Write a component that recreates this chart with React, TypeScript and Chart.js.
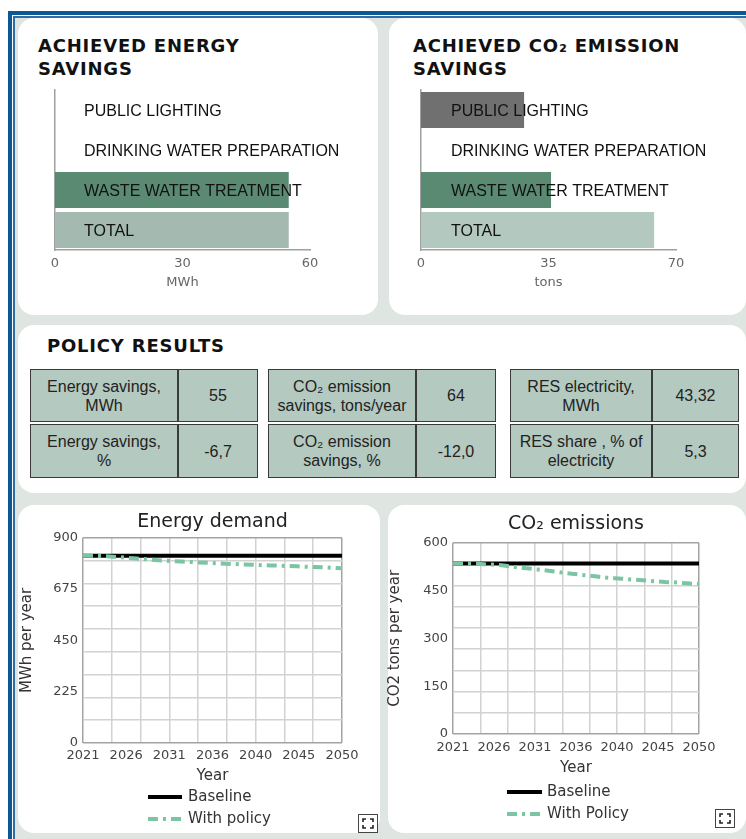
import React, { useEffect, useRef } from 'react';
import { Chart, registerables } from 'chart.js';

Chart.register(...registerables);

// ---------- DATA ----------
const BAR_CATEGORIES = ['PUBLIC LIGHTING', 'DRINKING WATER PREPARATION', 'WASTE WATER TREATMENT', 'TOTAL'];
const ENERGY_SAVINGS_MWH = [0, 0, 55, 55];
const CO2_SAVINGS_TONS = [28.3, 0, 35.7, 64];
const ENERGY_BAR_TICKS = [0, 30, 60];
const CO2_BAR_TICKS = [0, 35, 70];

const YEARS = [
  2021, 2022, 2023, 2024, 2025, 2026, 2027, 2028, 2029, 2030,
  2031, 2032, 2033, 2034, 2035, 2036, 2037, 2038, 2039, 2040,
  2041, 2042, 2043, 2044, 2045, 2046, 2047, 2048, 2049, 2050,
];
const ENERGY_BASELINE = [
  821, 821, 821, 821, 821, 821, 821, 821, 821, 821,
  821, 821, 821, 821, 821, 821, 821, 821, 821, 821,
  821, 821, 821, 821, 821, 821, 821, 821, 821, 821,
];
const ENERGY_WITH_POLICY = [
  821, 821, 820, 818, 815, 812, 809, 806, 803, 800,
  798, 796, 794, 792, 790, 788, 786, 785, 783, 782,
  780, 779, 778, 776, 775, 773, 772, 770, 768, 766,
];
const CO2_BASELINE = [
  535, 535, 535, 535, 535, 535, 535, 535, 535, 535,
  535, 535, 535, 535, 535, 535, 535, 535, 535, 535,
  535, 535, 535, 535, 535, 535, 535, 535, 535, 535,
];
const CO2_WITH_POLICY = [
  535, 535, 535, 534, 532, 531, 529, 525, 522, 519,
  516, 513, 510, 506, 503, 500, 497, 494, 491, 489,
  487, 485, 483, 481, 479, 477, 476, 474, 472, 471,
];
const X_TICK_LABELS = ['2021', '2026', '2031', '2036', '2040', '2045', '2050'];
const ENERGY_Y_TICKS = [0, 225, 450, 675, 900];
const CO2_Y_TICKS = [0, 150, 300, 450, 600];

const POLICY_LABELS = [
  ['Energy savings,', 'MWh'],
  ['CO\u2082 emission', 'savings, tons/year'],
  ['RES electricity,', 'MWh'],
  ['Energy savings,', '%'],
  ['CO\u2082 emission', 'savings, %'],
  ['RES share , % of', 'electricity'],
];
const POLICY_VALUES = ['55', '64', '43,32', '-6,7', '-12,0', '5,3'];

// ---------- STYLE ----------
const VERDANA = "'DejaVu Sans', Verdana, sans-serif";
const ARIAL = "'Liberation Sans', Arial, sans-serif";
const BG = '#dfe6e1';
const CELL_BG = '#b4c9bf';

const lineLegendPlugin = {
  id: 'lineLegend',
  afterDraw(chart: any, _args: any, opts: any) {
    if (!opts || !opts.display) return;
    const ctx = chart.ctx;
    chart.data.datasets.forEach((ds: any, i: number) => {
      const y = opts.y + i * opts.rowGap;
      ctx.save();
      ctx.strokeStyle = ds.borderColor;
      ctx.lineWidth = ds.borderWidth;
      ctx.setLineDash(ds.borderDash || []);
      ctx.beginPath();
      ctx.moveTo(opts.x, y);
      ctx.lineTo(opts.x + opts.len, y);
      ctx.stroke();
      ctx.setLineDash([]);
      ctx.fillStyle = '#333';
      ctx.font = `15px ${VERDANA}`;
      ctx.textBaseline = 'middle';
      ctx.textAlign = 'left';
      ctx.fillText(ds.label, opts.x + opts.len + opts.textGap, y);
      ctx.restore();
    });
  },
};

function evenTicks(min: number, max: number, n: number) {
  const out: { value: number }[] = [];
  for (let i = 0; i <= n; i++) out.push({ value: min + ((max - min) * i) / n });
  return out;
}

function barConfig(values: number[], colors: string[], ticks: number[], unit: string, pad: any, labelPad: number): any {
  return {
    type: 'bar',
    data: {
      labels: BAR_CATEGORIES,
      datasets: [
        {
          data: values,
          backgroundColor: colors,
          borderWidth: 0,
          barPercentage: 0.9,
          categoryPercentage: 1,
        },
      ],
    },
    options: {
      indexAxis: 'y',
      responsive: false,
      animation: false,
      layout: { padding: pad },
      plugins: { legend: { display: false }, tooltip: { enabled: false }, title: { display: false } },
      scales: {
        x: {
          min: ticks[0],
          max: ticks[ticks.length - 1],
          afterBuildTicks: (s: any) => {
            s.ticks = ticks.map((v) => ({ value: v }));
          },
          grid: { display: false, drawTicks: false },
          border: { display: true, color: '#a0a0a0', width: 1.5 },
          ticks: { font: { family: VERDANA, size: 13 }, color: '#666', padding: 6, maxRotation: 0, autoSkip: false },
          title: { display: true, text: unit, font: { family: VERDANA, size: 13 }, color: '#666', padding: 0 },
          afterFit: (s: any) => {
            s.height = 40;
          },
        },
        y: {
          grid: { display: false, drawTicks: false },
          border: { display: true, color: '#a0a0a0', width: 1.5 },
          ticks: {
            z: 1,
            mirror: true,
            padding: labelPad,
            labelOffset: 2,
            font: { family: ARIAL, size: 16 },
            color: '#111',
          },
          afterFit: (s: any) => {
            s.width = 10;
            s.paddingTop = 0;
            s.paddingBottom = 0;
          },
        },
      },
    },
  };
}

function lineConfig(p: any): any {
  const gridColor = (c: any) => (c.index === 0 || c.index === 9 ? '#a3a3a3' : '#d2d2d2');
  const gridWidth = (_c: any) => 1.5;
  const yMax = p.yTicks[p.yTicks.length - 1];
  return {
    type: 'line',
    data: {
      datasets: [
        {
          label: p.labels[0],
          data: YEARS.map((x, i) => ({ x, y: p.base[i] })),
          borderColor: '#000',
          borderWidth: 4,
          pointRadius: 0,
          fill: false,
          order: 1,
        },
        {
          label: p.labels[1],
          data: YEARS.map((x, i) => ({ x, y: p.policy[i] })),
          borderColor: '#7bc5a3',
          borderWidth: 4,
          borderDash: [10, 5, 3, 5],
          pointRadius: 0,
          fill: false,
          order: 0,
        },
      ],
    },
    plugins: [lineLegendPlugin],
    options: {
      responsive: false,
      animation: false,
      layout: { padding: p.pad },
      plugins: {
        legend: { display: false },
        tooltip: { enabled: false },
        title: {
          display: true,
          text: p.title,
          fullSize: false,
          font: { family: VERDANA, size: 19, weight: 'normal' },
          color: '#222',
          padding: p.titlePad,
        },
        lineLegend: { display: true, ...p.legend },
      },
      scales: {
        x: {
          type: 'linear',
          min: YEARS[0],
          max: YEARS[YEARS.length - 1],
          afterBuildTicks: (s: any) => {
            s.ticks = X_TICK_LABELS.map((_, i) => ({
              value: YEARS[0] + ((YEARS[YEARS.length - 1] - YEARS[0]) * i) / (X_TICK_LABELS.length - 1),
            }));
          },
          grid: { display: false, drawTicks: false },
          border: { display: false },
          ticks: {
            autoSkip: false,
            maxRotation: 0,
            padding: p.xPad,
            font: { family: VERDANA, size: 13 },
            color: '#444',
            callback: (_v: any, i: number) => X_TICK_LABELS[i],
          },
          title: { display: true, text: 'Year', font: { family: VERDANA, size: 15 }, color: '#333', padding: 0 },
          afterFit: (s: any) => {
            s.height = p.xHeight;
          },
        },
        xg: {
          type: 'linear',
          position: 'bottom',
          min: YEARS[0],
          max: YEARS[YEARS.length - 1],
          afterBuildTicks: (s: any) => {
            s.ticks = evenTicks(YEARS[0], YEARS[YEARS.length - 1], 9);
          },
          ticks: { display: false },
          grid: { display: true, drawTicks: false, color: gridColor, lineWidth: gridWidth },
          border: { display: false },
        },
        y: {
          min: 0,
          max: yMax,
          afterBuildTicks: (s: any) => {
            s.ticks = p.yTicks.map((v: number) => ({ value: v }));
          },
          grid: { display: false, drawTicks: false },
          border: { display: false },
          ticks: { padding: 5, font: { family: VERDANA, size: 13 }, color: '#444' },
          title: { display: true, text: p.yTitle, font: { family: VERDANA, size: 15 }, color: '#333', padding: 0 },
          afterFit: (s: any) => {
            s.width = p.yWidth;
          },
        },
        yg: {
          position: 'left',
          min: 0,
          max: yMax,
          afterBuildTicks: (s: any) => {
            s.ticks = evenTicks(0, yMax, 9);
          },
          ticks: { display: false },
          grid: { display: true, drawTicks: false, color: gridColor, lineWidth: gridWidth },
          border: { display: false },
        },
      },
    },
  };
}

function ChartCanvas({ left, top, width, height, make }: any) {
  const ref = useRef<HTMLCanvasElement>(null);
  useEffect(() => {
    const chart = new Chart(ref.current as HTMLCanvasElement, make());
    return () => chart.destroy();
  }, []);
  return (
    <canvas
      ref={ref}
      width={width}
      height={height}
      style={{ position: 'absolute', left, top, width, height, display: 'block' }}
    />
  );
}

function Panel({ left, top, width, height }: any) {
  return (
    <div
      style={{
        position: 'absolute',
        left,
        top,
        width,
        height,
        background: '#fff',
        borderRadius: 16,
      }}
    />
  );
}

function Heading({ left, top, lines }: any) {
  return (
    <div
      style={{
        position: 'absolute',
        left,
        top,
        fontFamily: VERDANA,
        fontWeight: 'bold',
        fontSize: 18,
        lineHeight: '23px',
        letterSpacing: '0.8px',
        color: '#111',
        whiteSpace: 'nowrap',
      }}
    >
      {lines.map((l: string, i: number) => (
        <div key={i}>{l}</div>
      ))}
    </div>
  );
}

function Cell({ left, top, width, height, children }: any) {
  return (
    <div
      style={{
        position: 'absolute',
        left,
        top,
        width,
        height,
        boxSizing: 'border-box',
        border: '1px solid #3a3a3a',
        background: CELL_BG,
        display: 'flex',
        alignItems: 'center',
        justifyContent: 'center',
        textAlign: 'center',
        fontFamily: ARIAL,
        fontSize: 16,
        lineHeight: '19px',
        color: '#222',
      }}
    >
      <div>{children}</div>
    </div>
  );
}

function ExpandIcon({ left, top }: any) {
  return (
    <div
      style={{
        position: 'absolute',
        left,
        top,
        width: 20,
        height: 19,
        boxSizing: 'border-box',
        border: '1px solid #444',
        background: '#fff',
      }}
    >
      <svg width="18" height="17" style={{ display: 'block' }}>
        <path
          d="M4 7 V4 H7 M11 4 H14 V7 M14 10 V13 H11 M7 13 H4 V10"
          fill="none"
          stroke="#222"
          strokeWidth="1.6"
        />
      </svg>
    </div>
  );
}

const TABLE_GROUPS = [
  { x: 30, div: 178, right: 258 },
  { x: 268, div: 416, right: 496 },
  { x: 510, div: 652, right: 739 },
];
const TABLE_ROWS = [
  { top: 369, bottom: 422 },
  { top: 424, bottom: 478 },
];

export default function App() {
  return (
    <div
      style={{
        position: 'absolute',
        left: 0,
        top: 0,
        width: 746,
        height: 839,
        overflow: 'hidden',
        background: '#fff',
      }}
    >
      {/* frame */}
      <div style={{ position: 'absolute', left: 8, top: 11, right: 0, bottom: 0, background: '#0c5894' }} />
      <div style={{ position: 'absolute', left: 12, top: 15, right: 0, bottom: 0, background: '#ffffff' }} />
      <div style={{ position: 'absolute', left: 13, top: 16, right: 0, bottom: 0, background: '#2e6ea4' }} />
      <div style={{ position: 'absolute', left: 15, top: 18, right: 0, bottom: 0, background: BG }} />

      {/* panels */}
      <Panel left={18} top={18} width={360} height={297} />
      <Panel left={389} top={18} width={357} height={297} />
      <Panel left={18} top={325} width={728} height={168} />
      <Panel left={18} top={505} width={362} height={328} />
      <Panel left={388} top={505} width={358} height={328} />

      <Heading left={38} top={34} lines={['ACHIEVED ENERGY', 'SAVINGS']} />
      <Heading left={413} top={34} lines={['ACHIEVED CO\u2082 EMISSION', 'SAVINGS']} />
      <Heading left={47} top={334} lines={['POLICY RESULTS']} />

      <ChartCanvas
        left={19}
        top={80}
        width={359}
        height={220}
        make={() =>
          barConfig(
            ENERGY_SAVINGS_MWH,
            ['#6f6f6f', '#6f6f6f', '#5b8a73', '#a4b9af'],
            ENERGY_BAR_TICKS,
            'MWh',
            { left: 26, right: 68, top: 10, bottom: 10 },
            29
          )
        }
      />
      <ChartCanvas
        left={389}
        top={80}
        width={357}
        height={220}
        make={() =>
          barConfig(
            CO2_SAVINGS_TONS,
            ['#707070', '#707070', '#5b8a73', '#b3c9bf'],
            CO2_BAR_TICKS,
            'tons',
            { left: 22, right: 70, top: 10, bottom: 10 },
            30
          )
        }
      />

      {/* policy tables */}
      {TABLE_GROUPS.map((g, gi) =>
        TABLE_ROWS.map((r, ri) => {
          const idx = ri * 3 + gi;
          const h = r.bottom - r.top;
          return (
            <React.Fragment key={`${gi}-${ri}`}>
              <Cell left={g.x} top={r.top} width={g.div - g.x} height={h}>
                {POLICY_LABELS[idx].map((t, k) => (
                  <div key={k}>{t}</div>
                ))}
              </Cell>
              <Cell left={g.div} top={r.top} width={g.right - g.div} height={h}>
                {POLICY_VALUES[idx]}
              </Cell>
            </React.Fragment>
          );
        })
      )}

      <ChartCanvas
        left={18}
        top={505}
        width={362}
        height={328}
        make={() =>
          lineConfig({
            title: 'Energy demand',
            yTitle: 'MWh per year',
            labels: ['Baseline', 'With policy'],
            base: ENERGY_BASELINE,
            policy: ENERGY_WITH_POLICY,
            yTicks: ENERGY_Y_TICKS,
            yWidth: 65,
            xHeight: 42,
            xPad: 5,
            pad: { left: 0, right: 38, top: 0, bottom: 48 },
            titlePad: { top: 6, bottom: 4 },
            legend: { x: 130, y: 292, rowGap: 22, len: 34, textGap: 6 },
          })
        }
      />
      <ChartCanvas
        left={386}
        top={505}
        width={360}
        height={328}
        make={() =>
          lineConfig({
            title: 'CO\u2082 emissions',
            yTitle: 'CO2 tons per year',
            labels: ['Baseline', 'With Policy'],
            base: CO2_BASELINE,
            policy: CO2_WITH_POLICY,
            yTicks: CO2_Y_TICKS,
            yWidth: 67,
            xHeight: 43,
            xPad: 6,
            pad: { left: 0, right: 47, top: 0, bottom: 56 },
            titlePad: { top: 8, bottom: 7 },
            legend: { x: 121, y: 287, rowGap: 22, len: 35, textGap: 5 },
          })
        }
      />

      <ExpandIcon left={358} top={814} />
      <ExpandIcon left={715} top={809} />
    </div>
  );
}
